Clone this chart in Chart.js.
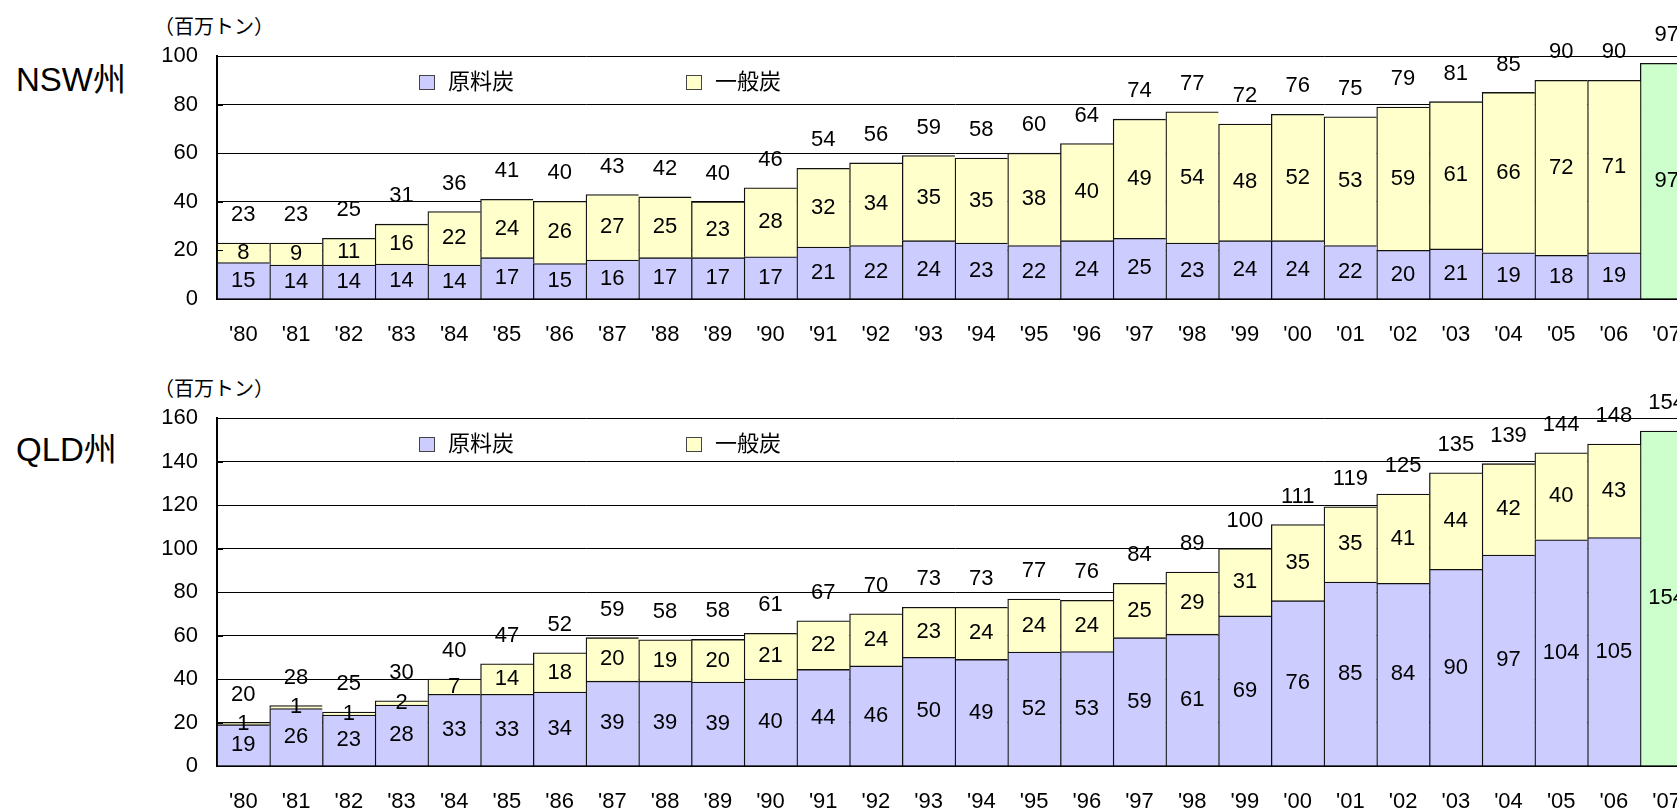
<!DOCTYPE html>
<html>
<head>
<meta charset="utf-8">
<script src="https://cdn.jsdelivr.net/npm/chart.js@4/dist/chart.umd.min.js"></script>
<style>
  html, body { margin: 0; padding: 0; width: 1677px; height: 809px; overflow: hidden; background: #fff; }
  .txt { position: absolute; color: #000; white-space: nowrap; line-height: 1;
         font-family: "Liberation Sans", Arial, "Noto Sans CJK JP", sans-serif; }
  canvas { position: absolute; left: 0; }
</style>
</head>
<body>
<div class="txt" style="left:16px; top:63px; font-size:33px;">NSW州</div>
<div class="txt" style="left:154px; top:17px; font-size:20px;">（百万トン）</div>
<div class="txt" style="left:16px; top:433px; font-size:33px;">QLD州</div>
<div class="txt" style="left:154px; top:379px; font-size:20px;">（百万トン）</div>

<canvas id="nswChart" width="1720" height="349" style="top:0px;"></canvas>
<canvas id="qldChart" width="1720" height="460" style="top:349px;"></canvas>

<script>
const FONT = '"Liberation Sans", Arial, "Noto Sans CJK JP", sans-serif';

const years = ["'80", "'81", "'82", "'83", "'84", "'85", "'86", "'87", "'88", "'89",
               "'90", "'91", "'92", "'93", "'94", "'95", "'96", "'97", "'98", "'99",
               "'00", "'01", "'02", "'03", "'04", "'05", "'06", "'07"];
const seriesNames = ['原料炭', '一般炭'];

// NSW州 ('80-'06), 百万トン
const nswCoking  = [15, 14, 14, 14.4, 14, 17, 14.6, 16, 17, 17, 17.4, 21.4, 22, 24, 23, 22, 24, 25, 23, 24, 24, 22, 20, 20.6, 19, 18, 19];
const nswThermal = [8, 9, 11, 16.4, 22, 24, 25.6, 27, 25, 23, 28.4, 32.4, 34, 35, 35, 38, 40, 49, 54, 48, 52, 53, 59, 60.6, 66, 72, 71];
const nsw2007 = 97;

// QLD州 ('80-'06), 百万トン
const qldCoking  = [19, 26.4, 23.4, 28, 33, 33, 34, 39, 39, 38.6, 40, 44.4, 46, 50, 49, 52.4, 52.6, 59, 60.6, 69, 76, 84.6, 84, 90.4, 97, 104, 105];
const qldThermal = [1, 1.4, 1.4, 2, 7, 14, 18, 20, 19, 19.6, 21, 22.4, 24, 23, 24, 24.4, 23.6, 25, 28.6, 31, 35, 34.6, 41, 44.4, 42, 40, 43];
const qld2007 = 154;

const colors = ['#CCCCFF', '#FFFFCC', '#CCFFCC'];

// value labels, inside tick marks and the in-plot legend
const labelPlugin = {
    id: 'coalLabels',
    afterDatasetsDraw(chart) {
        const ctx = chart.ctx;
        const area = chart.chartArea;
        const yScale = chart.scales.y;
        ctx.save();

        ctx.strokeStyle = '#000';
        ctx.lineWidth = 1;
        yScale.ticks.forEach(t => {
            const y = Math.round(yScale.getPixelForValue(t.value)) + 0.5;
            ctx.beginPath();
            ctx.moveTo(area.left, y);
            ctx.lineTo(area.left + 6, y);
            ctx.stroke();
        });

        ctx.font = '22px ' + FONT;
        ctx.fillStyle = '#000';
        ctx.textAlign = 'center';
        ctx.textBaseline = 'middle';
        for (let j = 0; j < chart.data.labels.length; j++) {
            let total = 0, top = null, x = null;
            chart.data.datasets.forEach((ds, i) => {
                const v = ds.data[j];
                if (v == null) return;
                const el = chart.getDatasetMeta(i).data[j];
                ctx.fillText(Math.round(v), el.x, (el.y + el.base) / 2);
                total += v;
                top = top === null ? el.y : Math.min(top, el.y);
                x = el.x;
            });
            if (x !== null) ctx.fillText(Math.round(total), x, top - 28);
        }

        // legend
        const legendX = [202, 469];
        ctx.textAlign = 'left';
        seriesNames.forEach((name, i) => {
            const bx = area.left + legendX[i];
            const by = area.top + 19;
            ctx.fillStyle = colors[i];
            ctx.fillRect(bx, by, 16, 15);
            ctx.strokeStyle = '#444';
            ctx.strokeRect(bx + 0.5, by + 0.5, 15, 14);
            ctx.fillStyle = '#000';
            ctx.fillText(name, bx + 29, by + 8);
        });
        ctx.restore();
    }
};

function makeChart(id, coking, thermal, latest, yMax, padTop, xHeight) {
    const blanks = coking.map(() => null);
    const barStyle = {
        borderColor: '#111',
        borderWidth: { top: 1.3, left: 1.3, right: 0, bottom: 0 },
        borderSkipped: false,
        categoryPercentage: 1,
        barPercentage: 1
    };
    return new Chart(document.getElementById(id), {
        type: 'bar',
        data: {
            labels: years,
            datasets: [
                { label: seriesNames[0], data: coking.concat([null]), backgroundColor: colors[0], ...barStyle },
                { label: seriesNames[1], data: thermal.concat([null]), backgroundColor: colors[1], ...barStyle },
                { label: "'07", data: blanks.concat([latest]), backgroundColor: colors[2], ...barStyle }
            ]
        },
        options: {
            responsive: false,
            animation: false,
            layout: { padding: { top: padTop, right: 27, bottom: 0, left: 0 } },
            plugins: {
                legend: { display: false },
                tooltip: { enabled: false }
            },
            scales: {
                x: {
                    stacked: true,
                    grid: { display: false, drawTicks: false },
                    border: { color: '#000', width: 2 },
                    ticks: {
                        color: '#000',
                        font: { size: 22, family: FONT },
                        padding: 23,
                        maxRotation: 0,
                        autoSkip: false
                    },
                    afterFit: s => { s.height = xHeight; }
                },
                y: {
                    stacked: true,
                    min: 0,
                    max: yMax,
                    ticks: {
                        stepSize: 20,
                        color: '#000',
                        font: { size: 22, family: FONT },
                        padding: 19
                    },
                    grid: { color: '#000', lineWidth: 1, drawTicks: false },
                    border: { color: '#000', width: 2 },
                    afterFit: s => { s.width = 217; }
                }
            }
        },
        plugins: [labelPlugin]
    });
}

makeChart('nswChart', nswCoking, nswThermal, nsw2007, 100, 56, 50);
makeChart('qldChart', qldCoking, qldThermal, qld2007, 160, 69, 43);
</script>
</body>
</html>
